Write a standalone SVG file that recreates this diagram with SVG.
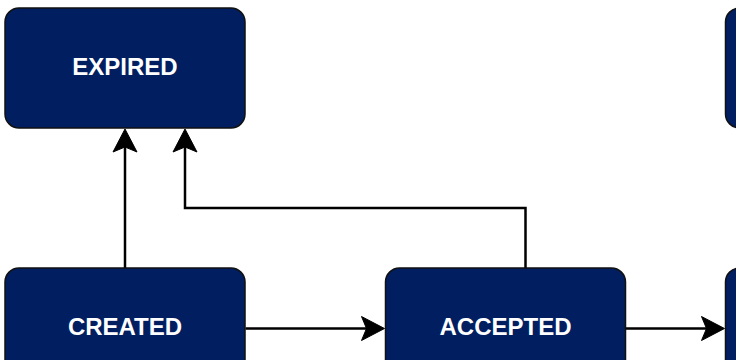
<svg xmlns="http://www.w3.org/2000/svg" width="736" height="360" viewBox="0 0 736 360">
<style>
.node{fill:#001E60;stroke:#111;stroke-width:1.5}
.lbl{fill:#fff;font-family:"Liberation Sans",Arial,sans-serif;font-weight:bold;font-size:24px;text-anchor:middle}
.edge{fill:none;stroke:#000;stroke-width:2.5}
.head{fill:#000;stroke:#000;stroke-width:1}
</style>
<rect width="736" height="360" fill="#fff"/>
<g id="edges">
<path class="edge" d="M125 268 V146"/>
<polygon class="head" points="125,129 137,152 125,147 113,152"/>
<path class="edge" d="M525.5 268 V208 H185 V146"/>
<polygon class="head" points="185,129 197,152 185,147 173,152"/>
<path class="edge" d="M245.5 328.5 H367"/>
<polygon class="head" points="384.5,328.5 361.5,340.5 366.5,328.5 361.5,316.5"/>
<path class="edge" d="M625.5 328.5 H707"/>
<polygon class="head" points="724.5,328.5 701.5,340.5 706.5,328.5 701.5,316.5"/>
</g>
<g id="expired"><rect class="node" x="5" y="8" width="240" height="120" rx="14"/><text class="lbl" x="125" y="75">EXPIRED</text></g>
<g id="created"><rect class="node" x="5" y="268" width="240" height="120" rx="14"/><text class="lbl" x="125" y="335">CREATED</text></g>
<g id="accepted"><rect class="node" x="385.5" y="268" width="240" height="120" rx="14"/><text class="lbl" x="505.5" y="335">ACCEPTED</text></g>
<g id="node-top-right"><rect class="node" x="725.5" y="8" width="240" height="120" rx="14"/></g>
<g id="node-bottom-right"><rect class="node" x="725.5" y="268" width="240" height="120" rx="14"/></g>
</svg>
